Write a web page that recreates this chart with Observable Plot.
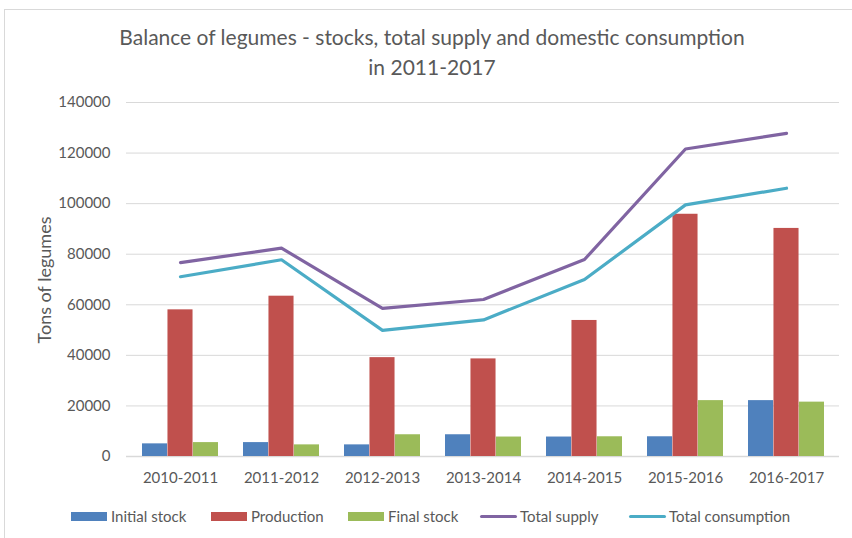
<!DOCTYPE html>
<html>
<head>
<meta charset="utf-8">
<script src="https://cdn.jsdelivr.net/npm/d3@7"></script>
<script src="https://cdn.jsdelivr.net/npm/@observablehq/plot@0.6"></script>
<style>
  html, body { margin: 0; padding: 0; background: #fff; overflow: hidden; }
  #wrap { position: relative; width: 852px; height: 538px; font-family: Lato, "Open Sans", sans-serif; color: #595959; }
  #frame { position: absolute; left: 4px; top: 9px; width: 900px; height: 600px; border: 1px solid #d9d9d9; box-sizing: border-box; }
  #title { position: absolute; left: 0; top: 22px; width: 864px; text-align: center; font-size: 21px; line-height: 30px; color: #595959; }
  #chart { position: absolute; left: 0; top: 0; }
  #ylabel { position: absolute; left: 44px; top: 280px; transform: translate(-50%, -50%) rotate(-90deg); font-size: 18px; white-space: nowrap; color: #595959; }
  .leg { position: absolute; top: 507px; font-size: 15px; display: flex; align-items: center; height: 18px; white-space: nowrap; }
  .sw { display: inline-block; width: 36px; height: 9px; margin-right: 4px; }
  .ln { display: inline-block; width: 37px; height: 3px; margin-right: 3px; border-radius: 2px; }
</style>
</head>
<body>
<div id="wrap">
  <div id="frame"></div>
  <div id="chart"></div>
  <div id="title">Balance of legumes - stocks, total supply and domestic consumption<br>in 2011-2017</div>
  <div id="ylabel">Tons of legumes</div>
  <div id="legend"></div>
</div>
<script>
const categories = ["2010-2011", "2011-2012", "2012-2013", "2013-2014", "2014-2015", "2015-2016", "2016-2017"];
const initialStock = [5000, 5500, 4600, 8600, 7700, 7800, 22100];
const production = [58000, 63400, 39100, 38600, 53800, 95800, 90200];
const finalStock = [5500, 4600, 8600, 7700, 7800, 22100, 21500];
const totalSupply = [76700, 82400, 58600, 62100, 77900, 121600, 127800];
const totalConsumption = [71100, 77800, 49900, 54000, 70000, 99500, 106100];
const yTicks = [0, 20000, 40000, 60000, 80000, 100000, 120000, 140000];

const seriesNames = ["Initial stock", "Production", "Final stock", "Total supply", "Total consumption"];
const colors = ["#4F81BD", "#C0504D", "#9BBB59", "#8064A2", "#4BACC6"];

const W = 852, H = 538, mL = 126, mR = 13, mT = 102, mB = 82;
const pInner = 0.25, pOuter = 0.125;
const step = (W - mL - mR) / (categories.length - pInner + 2 * pOuter);
const band = step * (1 - pInner);
const third = band / 3;

const rows = (vals) => categories.map((c, i) => ({cat: c, value: vals[i]}));

const barSeries = [initialStock, production, finalStock];
const barMarks = barSeries.map((vals, k) =>
  Plot.barY(rows(vals), {
    x: "cat", y: "value", fill: colors[k],
    insetLeft: k * third, insetRight: (2 - k) * third
  })
);

const chart = Plot.plot({
  width: W, height: H,
  marginLeft: mL, marginRight: mR, marginTop: mT, marginBottom: mB,
  style: {fontFamily: "Lato, 'Open Sans', sans-serif", fontSize: "15px", color: "#595959", background: "transparent"},
  x: {domain: categories, type: "band", paddingInner: pInner, paddingOuter: pOuter, label: null, tickSize: 0, tickPadding: 16},
  y: {domain: [0, 140000], ticks: yTicks, tickFormat: d => String(d), tickSize: 0, tickPadding: 16, label: null},
  marks: [
    Plot.ruleY(yTicks.slice(1), {stroke: "#d9d9d9", strokeWidth: 1}),
    Plot.ruleY([0], {stroke: "#d9d9d9", strokeWidth: 1.5}),
    ...barMarks,
    Plot.line(rows(totalSupply), {x: "cat", y: "value", stroke: colors[3], strokeWidth: 3.2, strokeLinecap: "round"}),
    Plot.line(rows(totalConsumption), {x: "cat", y: "value", stroke: colors[4], strokeWidth: 3.2, strokeLinecap: "round"})
  ]
});
document.getElementById("chart").appendChild(chart);

const legendLefts = [71, 211, 348, 480, 629];
const legend = document.getElementById("legend");
seriesNames.forEach((name, k) => {
  const d = document.createElement("div");
  d.className = "leg";
  d.style.left = legendLefts[k] + "px";
  const s = document.createElement("span");
  s.className = k < 3 ? "sw" : "ln";
  s.style.background = colors[k];
  d.appendChild(s);
  d.appendChild(document.createTextNode(name));
  legend.appendChild(d);
});
</script>
</body>
</html>
